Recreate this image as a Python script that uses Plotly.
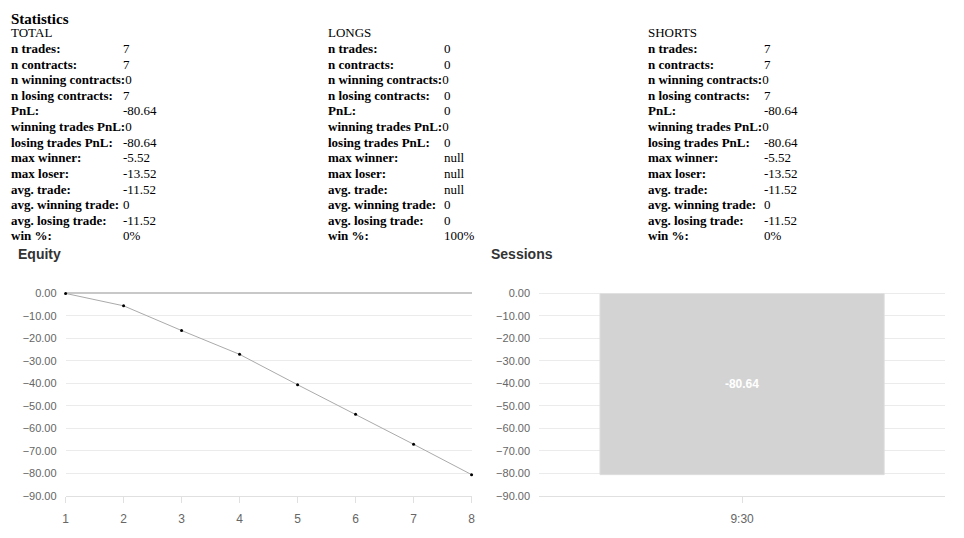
import plotly.graph_objects as go

# ---- data ----
stat_labels = ["n trades:", "n contracts:", "n winning contracts:", "n losing contracts:",
               "PnL:", "winning trades PnL:", "losing trades PnL:", "max winner:",
               "max loser:", "avg. trade:", "avg. winning trade:", "avg. losing trade:", "win %:"]
total_values = ["7", "7", "0", "7", "-80.64", "0", "-80.64", "-5.52", "-13.52", "-11.52", "0", "-11.52", "0%"]
longs_values = ["0", "0", "0", "0", "0", "0", "0", "null", "null", "null", "0", "0", "100%"]
shorts_values = ["7", "7", "0", "7", "-80.64", "0", "-80.64", "-5.52", "-13.52", "-11.52", "0", "-11.52", "0%"]
column_names = ["TOTAL", "LONGS", "SHORTS"]

equity_x = [1, 2, 3, 4, 5, 6, 7, 8]
equity_y = [0, -5.52, -16.52, -27.12, -40.64, -53.74, -67.14, -80.64]

session_labels = ["9:30"]
session_pnl = [-80.64]

# page has an 8px body margin; figure sized to fit the window
OFF = 8
W, H = 964 - 2 * OFF, 538 - 2 * OFF


def px(x):
    return (x - OFF) / W


def py(y):
    return 1 - (y - OFF) / H


fig = go.Figure()

fig.add_trace(go.Scatter(
    x=equity_x, y=equity_y, mode="lines+markers",
    line=dict(color="#aaaaaa", width=1),
    marker=dict(color="#000000", size=3),
    cliponaxis=False, xaxis="x", yaxis="y", showlegend=False, hoverinfo="x+y"))

fig.add_trace(go.Bar(
    x=session_labels, y=session_pnl,
    marker=dict(color="#d3d3d3", line=dict(width=1, color="#dddddd")),
    text=[f"<b>{v:.2f}</b>" for v in session_pnl], textposition="inside", insidetextanchor="middle",
    textfont=dict(color="#ffffff", size=12, family="Liberation Sans"),
    width=0.7, xaxis="x2", yaxis="y2", showlegend=False))

grid = "#ebebeb"
tickfont = dict(family="Liberation Sans", size=11, color="#666666")
xtickfont = dict(family="Liberation Sans", size=12, color="#666666")
ydom = [py(501), py(294)]

fig.update_layout(
    width=W, height=H, margin=dict(l=0, r=0, t=0, b=0),
    paper_bgcolor="white", plot_bgcolor="white",
    xaxis=dict(domain=[px(63), px(472)], range=[1, 8], tickvals=equity_x, showgrid=False,
               zeroline=False, showline=True, linecolor="#e0e0e0", ticks="outside", ticklen=6,
               tickcolor="#e0e0e0", tickfont=xtickfont, ticklabelstandoff=6),
    yaxis=dict(domain=ydom, range=[-90, 0], dtick=10, tickformat=".2f", gridcolor=grid,
               zeroline=True, zerolinecolor="#c8c8c8", zerolinewidth=2,
               showline=False, tickfont=tickfont, ticks="", ticklabelstandoff=8),
    xaxis2=dict(domain=[px(540), px(949)], showgrid=False, zeroline=False, showline=True,
                linecolor="#e0e0e0", ticks="outside", ticklen=6, tickcolor="#e0e0e0",
                tickfont=xtickfont, ticklabelstandoff=6),
    yaxis2=dict(domain=ydom, range=[-90, 0], dtick=10, tickformat=".2f", gridcolor=grid,
                zeroline=True, zerolinecolor=grid, zerolinewidth=1, anchor="x2",
                showline=False, tickfont=tickfont, ticks="", ticklabelstandoff=8),
)

serif = "Liberation Serif"
ann = []
# title: kept inside the visible page area
ann.append(dict(x=-2 / W, y=py(13), text="<b>Statistics</b>", showarrow=False,
                xref="paper", yref="paper", xanchor="left", yanchor="middle",
                font=dict(family=serif, size=15, color="#000")))
col_x = [5, 327, 650]
val_x = [121, 444, 767]
values = [total_values, longs_values, shorts_values]
for ci, name in enumerate(column_names):
    lx = max(col_x[ci] - 2, OFF - 2)
    ann.append(dict(x=px(lx), y=py(27.3), text=name, showarrow=False,
                    xref="paper", yref="paper", xanchor="left", yanchor="middle",
                    font=dict(family=serif, size=13, color="#000")))
    for ri, lab in enumerate(stat_labels):
        yy = py(43.2 + 16 * ri)
        v = values[ci][ri]
        if lab in ("n winning contracts:", "winning trades PnL:"):
            ann.append(dict(x=px(lx), y=yy, text=f"<b>{lab}</b>{v}", showarrow=False,
                            xref="paper", yref="paper", xanchor="left", yanchor="middle",
                            font=dict(family=serif, size=13, color="#000")))
        else:
            ann.append(dict(x=px(lx), y=yy, text=f"<b>{lab}</b>", showarrow=False,
                            xref="paper", yref="paper", xanchor="left", yanchor="middle",
                            font=dict(family=serif, size=13, color="#000")))
            ann.append(dict(x=px(val_x[ci] - 2), y=yy, text=v, showarrow=False,
                            xref="paper", yref="paper", xanchor="left", yanchor="middle",
                            font=dict(family=serif, size=13, color="#000")))

for tx, t in [(15, "Equity"), (492, "Sessions")]:
    ann.append(dict(x=px(tx - 2), y=py(254), text=f"<b>{t}</b>", showarrow=False,
                    xref="paper", yref="paper", xanchor="left", yanchor="middle",
                    font=dict(family="Liberation Sans", size=14, color="#333333")))

fig.update_layout(annotations=ann)
fig.write_html("out.html")
